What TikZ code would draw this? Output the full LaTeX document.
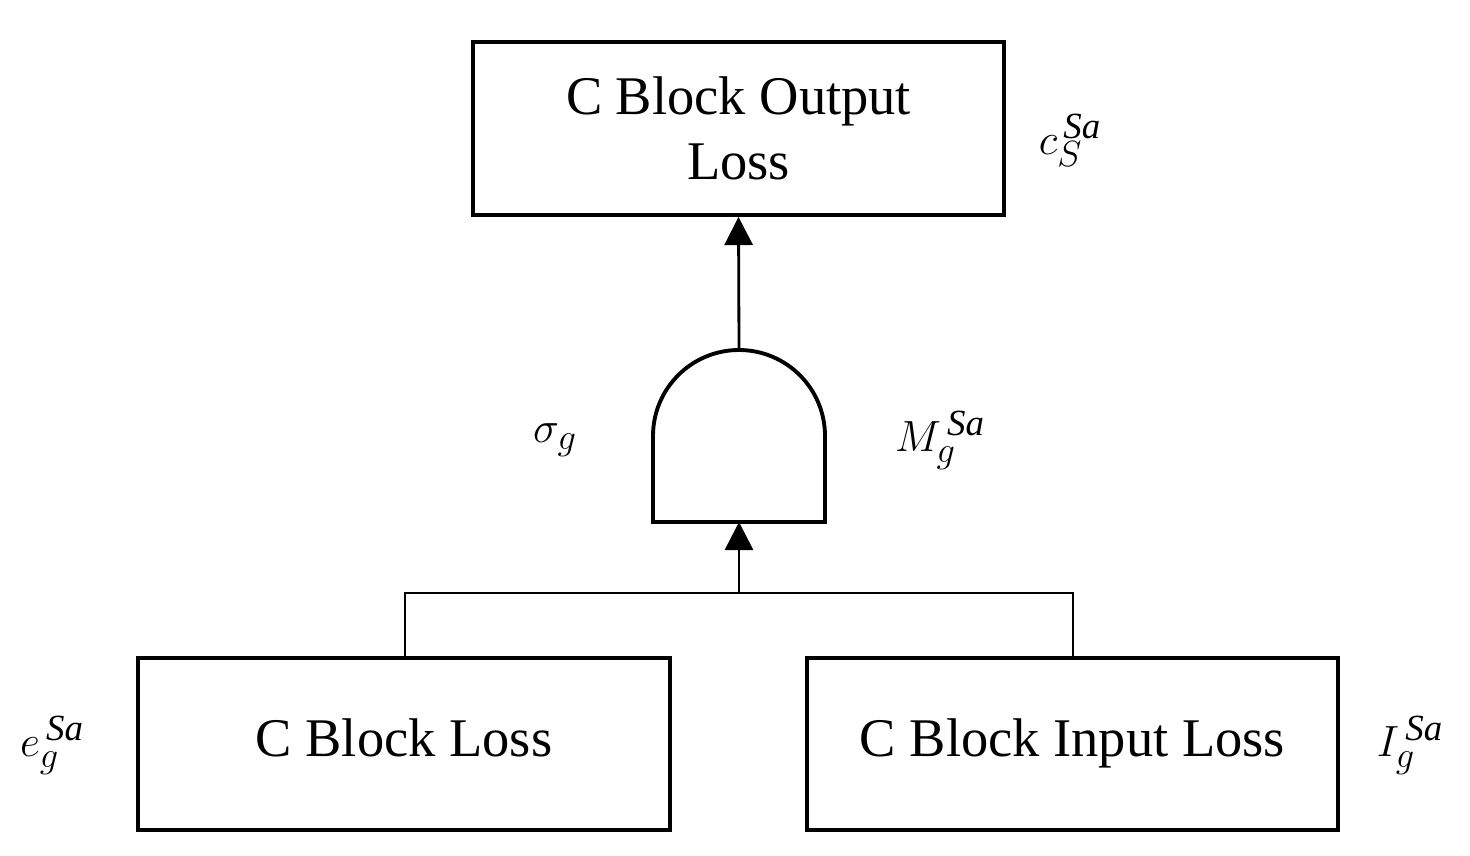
\documentclass[tikz,border=0pt]{standalone}
\usepackage{fontspec}
\setmainfont{Liberation Serif}
\usetikzlibrary{arrows.meta}
\begin{document}
\begin{tikzpicture}[x=0.02cm,y=-0.02cm,
  box/.style={draw,line width=2.2pt,inner sep=0pt,font=\fontsize{31}{37}\selectfont,align=center},
  lbl/.style={font=\fontsize{30}{34}\selectfont},
  conn/.style={line width=1.6pt},
  arr/.style={conn,-{Triangle[length=16pt,width=16pt]}}]
\useasboundingbox (0,0) rectangle (1470,855);
\node[box,minimum width=531*0.02cm,minimum height=173*0.02cm] (top) at (738.5,128.5) {C Block Output\\Loss};
\node[box,minimum width=532*0.02cm,minimum height=172*0.02cm,text depth=7pt] (left) at (404,744) {C Block Loss};
\node[box,minimum width=531*0.02cm,minimum height=172*0.02cm,text depth=7pt] (right) at (1072.5,744) {C Block Input Loss};
\coordinate (gtop) at (739,350);
\coordinate (gbot) at (739,522);
\coordinate (j) at (739,593);
\coordinate (jl) at (405,593);
\coordinate (jr) at (1073,593);
\draw[line width=2.2pt] (653,522) -- (653,436) arc[start angle=180,end angle=0,radius=86*0.02cm] -- (825,522) -- cycle;
\draw[arr] (gtop) -- (top.south);
\draw[arr] (j) -- (gbot);
\draw[conn] (left.north -| jl) -- (jl) -- (jr) -- (right.north -| jr);
\node[lbl] (c) at (1070,140) {$c_S^{\,\mathit{Sa}}$};
\node[lbl] (s) at (555,440) {$\sigma_g$};
\node[lbl] (m) at (940,440) {$M_g^{\,\mathit{Sa}}$};
\node[lbl] (e) at (52,745) {$e_g^{\,\mathit{Sa}}$};
\node[lbl] (i) at (1410,745) {$I_g^{\,\mathit{Sa}}$};
\end{tikzpicture}
\end{document}
